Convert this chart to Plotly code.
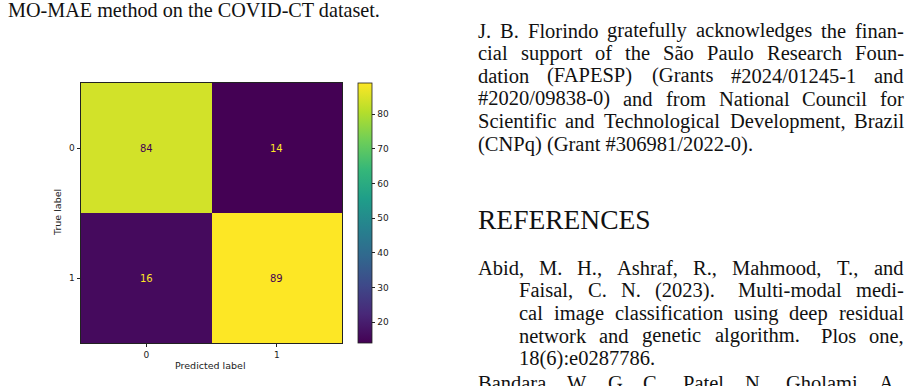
import plotly.graph_objects as go

# ---------------- data ----------------
pred_labels = [0, 1]
true_labels = [0, 1]
cm_values = [[84, 14],
             [16, 89]]
cbar_ticks = [20, 30, 40, 50, 60, 70, 80]

caption_text = "MO-MAE method on the COVID-CT dataset."
ack_lines = [
    "J. B. Florindo gratefully acknowledges the finan-",
    "cial support of the São Paulo Research Foun-",
    "dation (FAPESP) (Grants #2024/01245-1 and",
    "#2020/09838-0) and from National Council for",
    "Scientific and Technological Development, Brazil",
    "(CNPq) (Grant #306981/2022-0).",
]
ref_heading = "REFERENCES"
ref_lines = [
    "Abid, M. H., Ashraf, R., Mahmood, T., and",
    "Faisal, C. N. (2023).  Multi-modal medi-",
    "cal image classification using deep residual",
    "network and genetic algorithm.  Plos one,",
    "18(6):e0287786.",
    "Bandara, W. G. C., Patel, N., Gholami, A.,",
]

# ---------------- page geometry helpers ----------------
W, H = 909, 386
def px(x):
    return x / W
def py(y):
    return 1 - y / H

# Times-Roman widths (Liberation Serif is metric compatible)
TW = {' ': 250, '!': 333, '#': 500, '(': 333, ')': 333, ',': 250, '-': 333, '.': 250,
      '/': 278, ':': 278, ';': 278,
      'A': 722, 'B': 667, 'C': 667, 'D': 722, 'E': 611, 'F': 556, 'G': 722, 'H': 722,
      'I': 333, 'J': 389, 'K': 722, 'L': 611, 'M': 889, 'N': 722, 'O': 722, 'P': 556,
      'Q': 722, 'R': 667, 'S': 556, 'T': 611, 'U': 722, 'V': 722, 'W': 944, 'X': 722,
      'Y': 722, 'Z': 611,
      'a': 444, 'b': 500, 'c': 444, 'd': 500, 'e': 444, 'f': 333, 'g': 500, 'h': 500,
      'i': 278, 'j': 278, 'k': 500, 'l': 278, 'm': 778, 'n': 500, 'o': 500, 'p': 500,
      'q': 500, 'r': 333, 's': 389, 't': 278, 'u': 500, 'v': 500, 'w': 722, 'x': 500,
      'y': 500, 'z': 444, 'ã': 444}
def text_w(s, size):
    return sum(TW.get(c, 500) for c in s) / 1000 * size

SERIF = "Liberation Serif"
BODY = 20.5
SANS = "DejaVu Sans"

annotations = []

def add_text(x, baseline, s, size=BODY, family=SERIF):
    # center of line box for Liberation Serif: baseline - 0.3375 em
    annotations.append(dict(
        x=px(x - 1), y=py(baseline - 0.3375 * size), xref="paper", yref="paper",
        xanchor="left", yanchor="middle", showarrow=False, text=s,
        font=dict(family=family, size=size, color="#111111")))

def add_line(x0, x1, baseline, s, justify=True, size=BODY):
    if not justify:
        add_text(x0, baseline, s, size)
        return
    tokens = s.split(' ')
    words, weights = [], []
    extra = 0.0
    for t in tokens:
        if t == '':
            extra += 0.6
            continue
        if words:
            weights.append(1.0 + extra)
        extra = 0.0
        words.append(t)
    widths = [text_w(w, size) for w in words]
    gap_total = (x1 - x0) - sum(widths)
    wsum = sum(weights) if weights else 1
    x = x0
    for i, w in enumerate(words):
        add_text(x, baseline, w, size)
        if i < len(weights):
            x += widths[i] + gap_total * weights[i] / wsum

# caption
add_line(7, 380, 16.5, caption_text, justify=False, size=20.2)

# acknowledgement paragraph
LS = 22.7
ack_base = [37.5 + k * LS for k in range(len(ack_lines))]
for i, (s, b) in enumerate(zip(ack_lines, ack_base)):
    add_line(477, 903, b, s, justify=(i < len(ack_lines) - 1))

# heading
add_text(477, 228.5, ref_heading, size=27.5)

# references (last one is cut by the page edge, as in the reference)
ref_base = [274.7, 297.4, 320.1, 342.8, 365.5, 389.5]
ref_x0 = [477, 518, 518, 518, 518, 477]
ref_just = [True, True, True, True, False, True]
for s, b, x0, j in zip(ref_lines, ref_base, ref_x0, ref_just):
    add_line(x0, 903, b, s, justify=j)

# ---------------- confusion matrix ----------------
zmin = min(min(r) for r in cm_values)
zmax = max(max(r) for r in cm_values)
thresh = (zmin + zmax) / 2
for i, row in enumerate(cm_values):
    for j, v in enumerate(row):
        annotations.append(dict(
            x=pred_labels[j], y=true_labels[i], xref="x", yref="y", showarrow=False,
            text=str(v), font=dict(family=SANS, size=10,
                                   color="#440154" if v >= thresh else "#fde725")))

annotations.append(dict(x=px(58), y=py(213), xref="paper", yref="paper", showarrow=False,
                        text="True label", textangle=-90, xanchor="center", yanchor="middle",
                        font=dict(family=SANS, size=9.5, color="#222222")))
annotations.append(dict(x=px(210.5), y=py(365), xref="paper", yref="paper", showarrow=False,
                        text="Predicted label", xanchor="center", yanchor="middle",
                        font=dict(family=SANS, size=9.5, color="#222222")))

fig = go.Figure(go.Heatmap(
    z=cm_values, x=pred_labels, y=true_labels,
    colorscale="Viridis", zmin=zmin, zmax=zmax,
    showscale=True,
    colorbar=dict(
        x=px(358), xanchor="left", xref="paper",
        y=py(213), yanchor="middle", yref="paper",
        len=260 / H, lenmode="fraction", thickness=14, thicknessmode="pixels",
        xpad=0, ypad=0, outlinewidth=0.8, outlinecolor="#222222",
        tickvals=cbar_ticks, ticks="outside", ticklen=3.5, tickwidth=0.8,
        tickcolor="#222222", tickfont=dict(family=SANS, size=9, color="#222222"),
    ),
))

axis_common = dict(
    ticks="outside", ticklen=3.5, tickwidth=0.8, tickcolor="#222222",
    showline=True, linewidth=0.8, linecolor="#222222", mirror=True,
    showgrid=False, zeroline=False,
    tickfont=dict(family=SANS, size=9, color="#222222"),
)

fig.update_layout(
    width=W, height=H,
    margin=dict(l=0, r=0, t=0, b=0),
    paper_bgcolor="white", plot_bgcolor="white",
    xaxis=dict(domain=[px(81), px(342)], range=[-0.5, 1.5], tickvals=pred_labels,
               **axis_common),
    yaxis=dict(domain=[py(343), py(83)], range=[1.5, -0.5], tickvals=true_labels,
               **axis_common),
    annotations=annotations,
    showlegend=False,
)

fig.write_html("out.html")
